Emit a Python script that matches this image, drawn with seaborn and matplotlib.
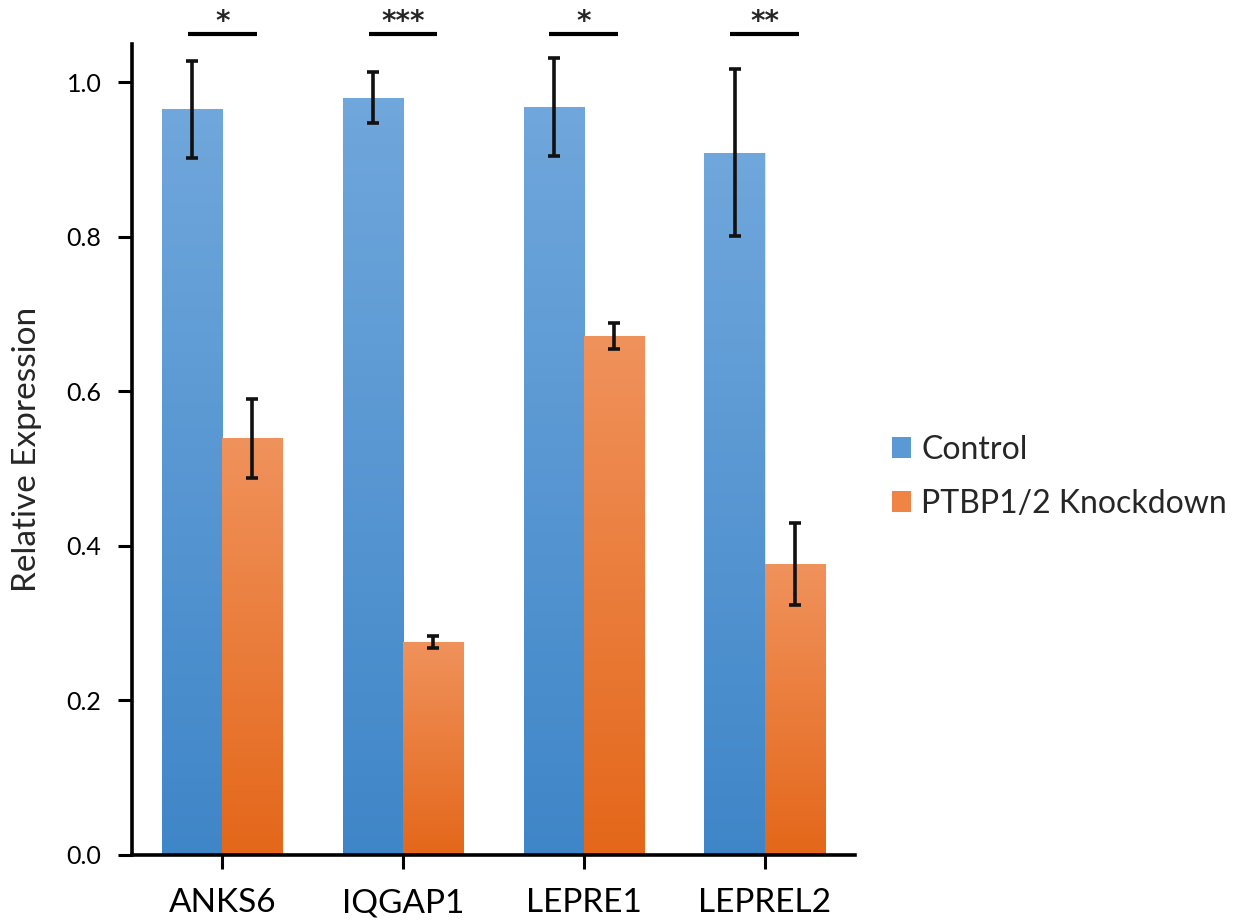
import numpy as np
import pandas as pd
import matplotlib
matplotlib.use("Agg")
import matplotlib.pyplot as plt
import seaborn as sns
from matplotlib.colors import LinearSegmentedColormap
from matplotlib.patches import Patch

genes = ["ANKS6", "IQGAP1", "LEPRE1", "LEPREL2"]
groups = ["Control", "PTBP1/2 Knockdown"]
control = [0.965, 0.980, 0.968, 0.909]
control_err = [0.063, 0.033, 0.063, 0.108]
knockdown = [0.539, 0.276, 0.672, 0.376]
knockdown_err = [0.051, 0.008, 0.017, 0.053]
stars = ["*", "***", "*", "**"]
yticks = [0.0, 0.2, 0.4, 0.6, 0.8, 1.0]

df = pd.DataFrame({
    "gene": genes * 2,
    "group": [groups[0]] * 4 + [groups[1]] * 4,
    "value": control + knockdown,
    "err": control_err + knockdown_err,
})

sns.set_theme(style="white")
plt.rcParams['font.family'] = ['Lato', 'DejaVu Sans']

fig = plt.figure(figsize=(12.55, 9.22), dpi=100)
ax = fig.add_axes([0.1052, 0.0727, 0.576, 0.880])

base_cols = {"Control": "#5a98d6", "PTBP1/2 Knockdown": "#ef8444"}
grad = {
    "Control": LinearSegmentedColormap.from_list("b", ["#3f86c8", "#70a7dc"]),
    "PTBP1/2 Knockdown": LinearSegmentedColormap.from_list("o", ["#e4671a", "#f0925c"]),
}

sns.barplot(data=df, x="gene", y="value", hue="group", order=genes,
            hue_order=groups, palette=base_cols, width=0.665, ax=ax,
            errorbar=None, legend=False, saturation=1.0)

ax.set_xlim(-0.5, 3.5)
ax.set_ylim(0, 1.05)

# gradient fill and error bars
for gi, grp in enumerate(groups):
    cont = ax.containers[gi]
    sub = df[df["group"] == grp].set_index("gene").loc[genes]
    for j, bar in enumerate(cont.patches):
        x0 = bar.get_x(); w = bar.get_width(); h = bar.get_height()
        bar.set_edgecolor("#d8e6f4" if gi == 0 else "#f8d2b8")
        bar.set_linewidth(0.8)
        g = np.linspace(0, 1, 256).reshape(-1, 1)
        im = ax.imshow(g, extent=[x0, x0 + w, 0, h], origin="lower",
                       cmap=grad[grp], aspect="auto", zorder=bar.get_zorder() + 0.1)
        im.set_clip_path(bar)
        ax.errorbar(x0 + w / 2, h, yerr=sub["err"].iloc[j], fmt="none",
                    ecolor="#111111", elinewidth=2.6, capsize=4, capthick=2.6,
                    zorder=5)

ax.set_xlim(-0.5, 3.5)
ax.set_ylim(0, 1.05)

# significance annotations
for i, s in enumerate(stars):
    ax.plot([i - 0.19, i + 0.19], [1.063, 1.063], color="black", lw=3,
            clip_on=False, solid_capstyle="butt")
    ax.text(i, 1.068, s, ha="center", va="baseline", fontsize=20,
            fontweight="bold", clip_on=False, family=["DejaVu Sans"])

ax.set_yticks(yticks)
ax.set_yticklabels([f"{t:.1f}" for t in yticks], fontsize=18)
ax.tick_params(axis="x", labelsize=24, length=10, width=2.2, direction="out",
               bottom=True, pad=14, colors="black")
ax.tick_params(axis="y", length=10, width=2.2, direction="out", left=True,
               pad=12, colors="black")
ax.set_xlabel("")
ax.set_ylabel("Relative Expression", fontsize=24)
ax.yaxis.set_label_coords(-0.124, 0.5)

for side in ["top", "right"]:
    ax.spines[side].set_visible(False)
for side in ["left", "bottom"]:
    ax.spines[side].set_linewidth(2.6)
    ax.spines[side].set_color("black")

handles = [Patch(facecolor=base_cols[g], edgecolor="none") for g in groups]
fig.legend(handles, groups, loc="center left", bbox_to_anchor=(0.711, 0.483),
           frameon=False, fontsize=23, handlelength=0.6, handleheight=0.6,
           handletextpad=0.31, labelspacing=0.75, borderpad=0, borderaxespad=0)

fig.savefig("out.png", dpi=100)
